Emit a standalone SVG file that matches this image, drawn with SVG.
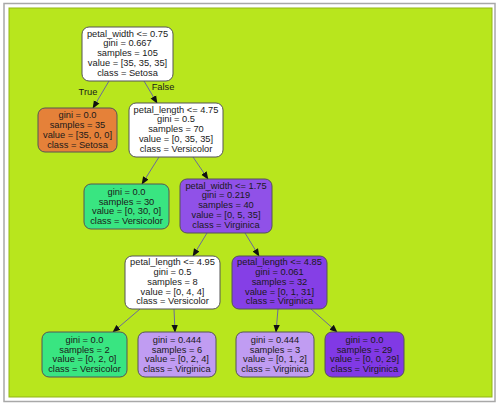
<svg xmlns="http://www.w3.org/2000/svg" width="499" height="407" viewBox="0 0 499 407">
<style>
.n rect{stroke:#555;stroke-width:1;rx:7;ry:7}
.n text, .lbl{font-family:"Liberation Sans",Arial,sans-serif;font-size:9.3px;fill:#1a1a1a;text-anchor:middle}
.e line{stroke:#6a6a9a;stroke-width:1;marker-end:url(#ah)}
</style>
<defs>
<marker id="ah" viewBox="0 0 10 10" refX="9" refY="5" markerWidth="8" markerHeight="8" markerUnits="userSpaceOnUse" orient="auto">
<path d="M0,1 L10,5 L0,9 z" fill="#111"/>
</marker>
</defs>
<rect x="0" y="0" width="499" height="407" fill="#ffffff"/>
<rect x="4" y="3.5" width="491" height="398" fill="#ffffff" stroke="#a8a8a8" stroke-width="1.5"/>
<rect x="9" y="8" width="483" height="389" fill="#b8e61d" stroke="#93b516" stroke-width="1"/>
<g id="edges" class="e">
<line x1="109" y1="81" x2="93" y2="108"/>
<line x1="144" y1="81" x2="157" y2="103"/>
<line x1="159" y1="157" x2="142" y2="184"/>
<line x1="193" y1="157" x2="208" y2="179"/>
<line x1="207" y1="233" x2="193" y2="256"/>
<line x1="245" y1="233" x2="259" y2="256"/>
<line x1="140" y1="309" x2="113" y2="332"/>
<line x1="174" y1="309" x2="175" y2="332"/>
<line x1="278" y1="309" x2="276" y2="332"/>
<line x1="311" y1="309" x2="337" y2="332"/>
<text class="lbl" x="88" y="95">True</text>
<text class="lbl" x="163" y="90">False</text>
</g>
<g id="n0" class="n">
<rect x="82" y="27" width="91" height="54" fill="#ffffff"/>
<text x="127.5" y="36.5">petal_width &lt;= 0.75</text>
<text x="127.5" y="46.3">gini = 0.667</text>
<text x="127.5" y="56">samples = 105</text>
<text x="127.5" y="65.8">value = [35, 35, 35]</text>
<text x="127.5" y="75.5">class = Setosa</text>
</g>
<g id="n1" class="n">
<rect x="38" y="108" width="79" height="44" fill="#e58139"/>
<text x="77.5" y="118.4">gini = 0.0</text>
<text x="77.5" y="128.2">samples = 35</text>
<text x="77.5" y="137.9">value = [35, 0, 0]</text>
<text x="77.5" y="147.7">class = Setosa</text>
</g>
<g id="n2" class="n">
<rect x="129" y="103" width="94" height="54" fill="#ffffff"/>
<text x="176" y="112.5">petal_length &lt;= 4.75</text>
<text x="176" y="122.3">gini = 0.5</text>
<text x="176" y="132">samples = 70</text>
<text x="176" y="141.8">value = [0, 35, 35]</text>
<text x="176" y="151.5">class = Versicolor</text>
</g>
<g id="n3" class="n">
<rect x="84" y="184" width="85" height="45" fill="#39e581"/>
<text x="126.5" y="194.9">gini = 0.0</text>
<text x="126.5" y="204.7">samples = 30</text>
<text x="126.5" y="214.4">value = [0, 30, 0]</text>
<text x="126.5" y="224.2">class = Versicolor</text>
</g>
<g id="n4" class="n">
<rect x="180" y="179" width="92" height="54" fill="#9051e8"/>
<text x="226" y="188.5">petal_width &lt;= 1.75</text>
<text x="226" y="198.3">gini = 0.219</text>
<text x="226" y="208">samples = 40</text>
<text x="226" y="217.8">value = [0, 5, 35]</text>
<text x="226" y="227.5">class = Virginica</text>
</g>
<g id="n5" class="n">
<rect x="125" y="256" width="95" height="53" fill="#ffffff"/>
<text x="172.5" y="265.2">petal_length &lt;= 4.95</text>
<text x="172.5" y="275">gini = 0.5</text>
<text x="172.5" y="284.7">samples = 8</text>
<text x="172.5" y="294.5">value = [0, 4, 4]</text>
<text x="172.5" y="304.2">class = Versicolor</text>
</g>
<g id="n6" class="n">
<rect x="232" y="256" width="95" height="53" fill="#853fe6"/>
<text x="279.5" y="265.2">petal_length &lt;= 4.85</text>
<text x="279.5" y="275">gini = 0.061</text>
<text x="279.5" y="284.7">samples = 32</text>
<text x="279.5" y="294.5">value = [0, 1, 31]</text>
<text x="279.5" y="304.2">class = Virginica</text>
</g>
<g id="n7" class="n">
<rect x="42" y="332" width="85" height="45" fill="#39e581"/>
<text x="84.5" y="342.9">gini = 0.0</text>
<text x="84.5" y="352.7">samples = 2</text>
<text x="84.5" y="362.4">value = [0, 2, 0]</text>
<text x="84.5" y="372.2">class = Versicolor</text>
</g>
<g id="n8" class="n">
<rect x="138" y="332" width="78" height="45" fill="#c09cf2"/>
<text x="177" y="342.9">gini = 0.444</text>
<text x="177" y="352.7">samples = 6</text>
<text x="177" y="362.4">value = [0, 2, 4]</text>
<text x="177" y="372.2">class = Virginica</text>
</g>
<g id="n9" class="n">
<rect x="236" y="332" width="78" height="45" fill="#c09cf2"/>
<text x="275" y="342.9">gini = 0.444</text>
<text x="275" y="352.7">samples = 3</text>
<text x="275" y="362.4">value = [0, 1, 2]</text>
<text x="275" y="372.2">class = Virginica</text>
</g>
<g id="n10" class="n">
<rect x="325" y="332" width="79" height="45" fill="#8139e5"/>
<text x="364.5" y="342.9">gini = 0.0</text>
<text x="364.5" y="352.7">samples = 29</text>
<text x="364.5" y="362.4">value = [0, 0, 29]</text>
<text x="364.5" y="372.2">class = Virginica</text>
</g>
</svg>
